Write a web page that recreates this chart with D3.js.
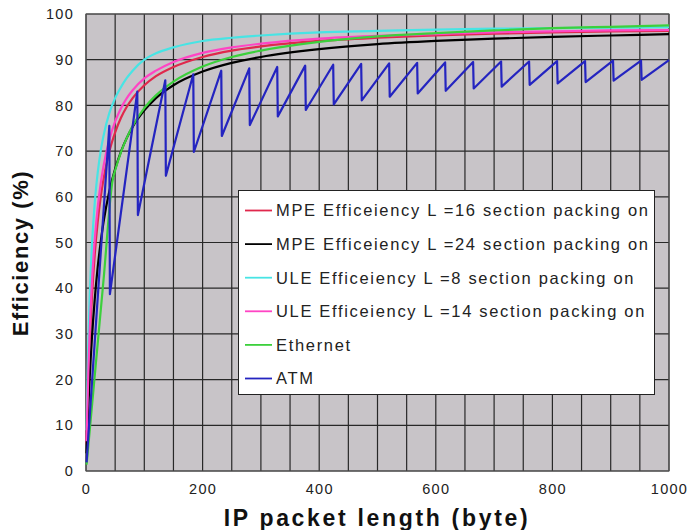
<!DOCTYPE html>
<html>
<head>
<meta charset="utf-8">
<script src="https://cdn.jsdelivr.net/npm/d3@7"></script>
<style>
  html, body { margin: 0; padding: 0; background: #fff; }
  svg { display: block; font-family: "Liberation Sans", Arial, sans-serif; }
</style>
</head>
<body>
<svg id="chart" width="687" height="530"></svg>
<script>
// ---------- data ----------
const lengths = [1,2,4,6,8,10,15,20,25,30,40,50,60,70,80,100,120,150,200,250,300,400,500,600,700,800,900,1000];
const mpe16 = [5.8,10.9,19.6,26.7,32.6,37.6,47.4,54.4,59.7,63.8,69.9,74.1,77.3,79.7,81.6,84.4,86.4,88.4,90.6,92.0,92.9,94.1,94.8,95.3,95.7,96.0,96.2,96.3];
const mpe24 = [3.9,7.5,14.0,19.6,24.5,28.8,37.6,44.5,49.9,54.4,61.2,66.1,69.9,72.9,75.3,78.9,81.6,84.4,87.4,89.3,90.6,92.3,93.4,94.1,94.6,95.0,95.3,95.6];
const ule8 = [8.9,16.3,28.0,36.7,43.5,48.9,58.7,65.2,69.9,73.3,78.3,81.6,84.0,86.0,87.6,90.0,91.4,92.7,94.1,94.8,95.3,96.0,96.3,96.6,96.8,96.9,97.0,97.1];
const ule14 = [6.5,12.2,21.7,29.4,35.6,40.8,50.6,57.6,62.7,66.7,72.5,76.5,79.4,81.6,83.3,85.9,87.6,89.5,91.5,92.7,93.5,94.6,95.2,95.6,96.0,96.2,96.4,96.5];
const ethLengths = [1,10,20,30,46,50,60,70,80,100,120,150,200,250,300,400,500,600,700,800,900,1000];
const ethernet = [1.4,13.9,27.8,41.7,63.9,65.8,69.8,72.9,75.5,79.4,82.2,85.2,88.5,90.6,92.0,93.9,95.1,95.8,96.4,96.9,97.2,97.5];
const atmLengths = [1,40,41,88,89,136,137,184,185,232,233,280,281,328,329,376,377,424,425,472,473,520,521,568,569,616,617,664,665,712,713,760,761,808,809,856,857,904,905,952,953,1000];
const atm = [1.9,75.5,38.7,83.0,56.0,85.5,64.6,86.8,69.8,87.6,73.3,88.1,75.7,88.4,77.6,88.7,79.0,88.9,80.2,89.1,81.1,89.2,81.9,89.3,82.6,89.4,83.2,89.5,83.7,89.6,84.1,89.6,84.5,89.7,84.8,89.7,85.1,89.8,85.4,89.8,85.6,89.9];

const seriesNames = [
  "MPE Efficeiency L =16 section packing on",
  "MPE Efficeiency L =24 section packing on",
  "ULE Efficeiency L =8 section packing on",
  "ULE Efficeiency L =14 section packing on",
  "Ethernet",
  "ATM"
];
const xTicks = [0,200,400,600,800,1000];
const yTicks = [0,10,20,30,40,50,60,70,80,90,100];
const xTitle = "IP packet length (byte)";
const yTitle = "Efficiency (%)";

// ---------- build ----------
const colors = ["#e0284c", "#000000", "#48e4e4", "#ff44c4", "#3cd03c", "#2424c0"];
const series = [
  {name: seriesNames[0], xs: lengths, ys: mpe16, curve: d3.curveMonotoneX},
  {name: seriesNames[1], xs: lengths, ys: mpe24, curve: d3.curveMonotoneX},
  {name: seriesNames[2], xs: lengths, ys: ule8, curve: d3.curveMonotoneX},
  {name: seriesNames[3], xs: lengths, ys: ule14, curve: d3.curveMonotoneX},
  {name: seriesNames[4], xs: ethLengths, ys: ethernet, curve: d3.curveMonotoneX},
  {name: seriesNames[5], xs: atmLengths, ys: atm, curve: d3.curveLinear}
];

const svg = d3.select("#chart");
const L = 86, R = 669, T = 14, B = 471;
const x = d3.scaleLinear().domain([0, 1000]).range([L, R]);
const y = d3.scaleLinear().domain([0, 100]).range([B, T]);

// plot background
svg.append("rect").attr("x", L).attr("y", T).attr("width", R - L).attr("height", B - T)
  .attr("fill", "#c8c4c8");

// grid
const grid = svg.append("g").attr("stroke", "#282828").attr("stroke-width", 1.2);
grid.selectAll("line.v").data(d3.range(0, 1001, 50)).join("line")
  .attr("x1", d => x(d)).attr("x2", d => x(d)).attr("y1", T).attr("y2", B);
grid.selectAll("line.h").data(d3.range(0, 101, 10)).join("line")
  .attr("y1", d => y(d)).attr("y2", d => y(d)).attr("x1", L).attr("x2", R);
svg.append("rect").attr("x", L).attr("y", T).attr("width", R - L).attr("height", B - T)
  .attr("fill", "none").attr("stroke", "#555").attr("stroke-width", 1);

// axes (labels only)
const xAxis = d3.axisBottom(x).tickValues(xTicks).tickFormat(d3.format("d")).tickSize(0).tickPadding(0);
const gx = svg.append("g").attr("transform", `translate(0,${B + 13})`).call(xAxis);
gx.select(".domain").remove();
gx.selectAll("text").attr("font-size", 14.5).attr("fill", "#222")
  .attr("font-family", "'Liberation Sans', Arial, sans-serif").attr("letter-spacing", "1.3px");

const yAxis = d3.axisLeft(y).tickValues(yTicks).tickSize(0).tickPadding(0);
const gy = svg.append("g").attr("transform", `translate(${L - 12},0)`).call(yAxis);
gy.select(".domain").remove();
gy.selectAll("text").attr("font-size", 14.5).attr("fill", "#222")
  .attr("font-family", "'Liberation Sans', Arial, sans-serif").attr("letter-spacing", "1.3px");

// lines
const plot = svg.append("g");
series.forEach((s, i) => {
  const pts = s.xs.map((v, j) => [v, s.ys[j]]);
  plot.append("path")
    .attr("d", d3.line().x(d => x(d[0])).y(d => y(d[1])).curve(s.curve)(pts))
    .attr("fill", "none").attr("stroke", colors[i]).attr("stroke-width", 2.2)
    .attr("stroke-linejoin", "round");
});

// legend
const lg = svg.append("g");
lg.append("rect").attr("x", 238.5).attr("y", 190.5).attr("width", 416).attr("height", 204)
  .attr("fill", "#fff").attr("stroke", "#222").attr("stroke-width", 1);
const rowStep = 33.6, row0 = 210.5;
const texts = [];
series.forEach((s, i) => {
  const cy = row0 + i * rowStep;
  lg.append("line").attr("x1", 245).attr("x2", 272).attr("y1", cy).attr("y2", cy)
    .attr("stroke", colors[i]).attr("stroke-width", 1.8);
  const t = lg.append("text").attr("x", 276).attr("y", cy).attr("dy", "0.36em")
    .attr("font-size", 16.5).attr("fill", "#222").text(s.name);
  texts.push(t);
});
// fit legend letter spacing to the first entry's width
const w0 = texts[0].node().getComputedTextLength();
const ls = (372 - w0) / (seriesNames[0].length - 1);
texts.forEach(t => t.attr("letter-spacing", ls + "px"));

// titles
const xt = svg.append("text").attr("x", 377).attr("y", 526).attr("text-anchor", "middle")
  .attr("font-size", 23).attr("font-weight", "bold").attr("fill", "#111").text(xTitle);
const xw = xt.node().getComputedTextLength();
xt.attr("letter-spacing", ((304 - xw) / (xTitle.length - 1)) + "px");

const yt = svg.append("text").attr("transform", "translate(28,253) rotate(-90)")
  .attr("text-anchor", "middle").attr("font-size", 22).attr("font-weight", "bold")
  .attr("fill", "#111").text(yTitle);
const yw = yt.node().getComputedTextLength();
yt.attr("letter-spacing", ((165 - yw) / (yTitle.length - 1)) + "px");
</script>
</body>
</html>
